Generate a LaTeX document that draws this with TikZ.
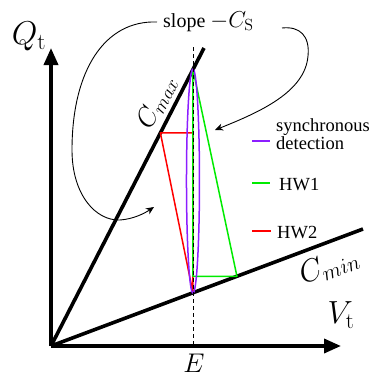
\documentclass[tikz,border=0pt]{standalone}
\usepackage{fix-cm}
\usepackage[no-math]{fontspec}
\setmainfont{Liberation Serif}
\usetikzlibrary{arrows.meta,calc}
\definecolor{violetline}{RGB}{140,30,255}
\definecolor{greenline}{RGB}{0,235,0}
\definecolor{redline}{RGB}{255,0,0}
\tikzset{
  thick axis/.style={line width=3.6pt},
  axisarrow/.style={thick axis,-{Triangle[length=17pt,width=14pt]}},
  cline/.style={line width=3.6pt},
  thinline/.style={line width=1.5pt},
  curvearrow/.style={line width=0.9pt,-{Stealth[length=8pt,width=7pt,inset=2.5pt]}},
  txt/.style={inner sep=0pt,font=\fontsize{18.5}{16}\selectfont},
  mathlbl/.style={inner sep=0pt,font=\fontsize{27}{30}\selectfont},
  bigmath/.style={inner sep=0pt,font=\fontsize{33}{36}\selectfont},
}
\begin{document}
\begin{tikzpicture}[x=1pt,y=-1pt]
\useasboundingbox (0,0) rectangle (370,378);
% base points
\coordinate (O) at (51,346);
\coordinate (Ytip) at (51,48);
\coordinate (Xtip) at (341,346);
\coordinate (CmaxE) at (204,48);
\coordinate (CminE) at (363,229);
\coordinate (T) at ($(O)!0.928!(CmaxE)$);
\coordinate (B) at ($(O)!0.4551!(CminE)$);
\coordinate (R) at ($(O)!0.715!(CmaxE)$);
\coordinate (G) at ($(O)!0.596!(CminE)$);
\coordinate (Rh) at (T |- R);
\coordinate (Gh) at (T |- G);
\coordinate (Etop) at (193,47);
\coordinate (Ebot) at (193,346);
\coordinate (Emid) at ($(T)!0.5!(B)$);
% axes
\draw[axisarrow] (O) -- (Ytip);
\draw[axisarrow] (O) -- (Xtip);
% C lines
\draw[cline] (O) -- (CmaxE);
\draw[cline] (O) -- (CminE);
% HW2 (red)
\draw[thinline,redline,line join=round] (R) -- (Rh) -- (B) -- cycle;
% HW1 (green)
\draw[thinline,greenline,line join=round] (T) -- (G) -- (Gh) -- cycle;
% synchronous detection (violet)
\draw[thinline,violetline] (Emid) ellipse [x radius=6.5, y radius=112];
% dashed E line
\draw[line width=0.8pt,dash pattern=on 4pt off 3pt] (Etop) -- (Ebot);
% labels
\node[bigmath] (Ql) at (29,36) {$Q_{\mathrm{t}}$};
\node[inner sep=0pt,font=\fontsize{32}{34}\selectfont] (Vl) at (341,315) {$V_{\mathrm{t}}$};
\node[inner sep=0pt,font=\fontsize{27}{30}\selectfont] (El) at (194,363) {$E$};
\node[mathlbl,rotate=62.8] (Cmaxl) at (157,102) {$C_{max}$};
\node[inner sep=0pt,font=\fontsize{31}{34}\selectfont,rotate=20.6] (Cminl) at (329,266) {$C_{min}$};
\node[txt,anchor=base west,font=\fontsize{20}{22}\selectfont] (slope) at (163,27) {slope \fontsize{23}{26}\selectfont$-C_{\mathrm{S}}$};
% curved arrows
\coordinate (Lstart) at (157,22);
\coordinate (Lend) at (154,207);
\coordinate (Rstart) at (282,28);
\coordinate (Rend) at (215,130);
\draw[curvearrow] (Lstart) .. controls (105,20) and (72,70) .. (72,150)
  .. controls (72,195) and (96,221) .. (120,220)
  .. controls (134,219) and (145,213) .. (Lend);
\draw[curvearrow] (Rstart) .. controls (300,26) and (310,36) .. (308,56)
  .. controls (305,92) and (260,112) .. (Rend);
% legend
\coordinate (L1a) at (252,141); \coordinate (L1b) at (270,141);
\coordinate (L2a) at (252,183); \coordinate (L2b) at (270,183);
\coordinate (L3a) at (252,231); \coordinate (L3b) at (271,231);
\draw[thinline,violetline] (L1a) -- (L1b);
\draw[thinline,greenline] (L2a) -- (L2b);
\draw[thinline,redline] (L3a) -- (L3b);
\node[txt,anchor=base west,align=left] (sync) at (276,149) {synchronous\\detection};
\node[txt,anchor=base west] (hw1) at (279,190) {HW1};
\node[txt,anchor=base west] (hw2) at (277,238) {HW2};
\end{tikzpicture}
\end{document}
